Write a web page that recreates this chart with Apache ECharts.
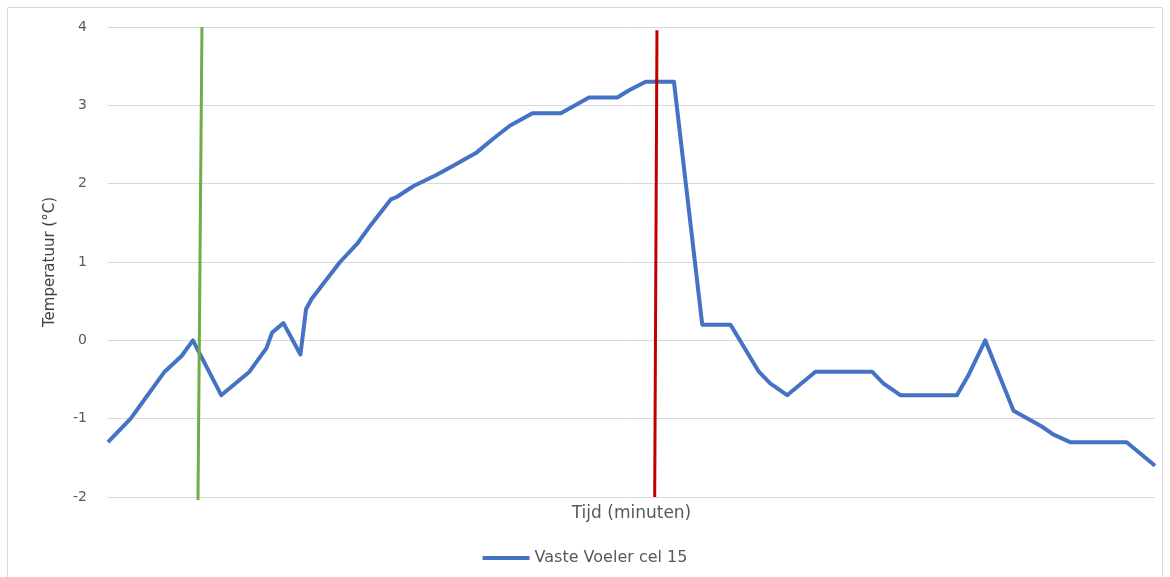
<!DOCTYPE html>
<html>
<head>
<meta charset="utf-8">
<script src="https://cdn.jsdelivr.net/npm/echarts@6/dist/echarts.min.js"></script>
<style>
  html, body { margin: 0; padding: 0; background: #fff; }
  #chart { width: 1170px; height: 577px; }
</style>
</head>
<body>
<div id="chart"></div>
<script>
  // tijd in minuten, temperatuur in graden C
  var tijd = [0, 2, 4, 6, 8, 10, 13, 15, 20, 25, 28, 29, 31, 34, 35, 36, 38, 41, 44, 46, 50, 51, 54, 58, 61, 65, 68, 71, 73, 75, 80, 82, 85, 90, 92, 95, 100, 105, 110, 115, 117, 120, 125, 135, 137, 140, 150, 152, 155, 160, 165, 167, 170, 180, 185];
  var temperatuur = [-1.3, -1.15, -1.0, -0.8, -0.6, -0.4, -0.2, 0, -0.7, -0.4, -0.1, 0.1, 0.22, -0.18, 0.4, 0.53, 0.72, 1.0, 1.23, 1.43, 1.8, 1.83, 1.97, 2.11, 2.23, 2.39, 2.57, 2.74, 2.82, 2.9, 2.9, 2.98, 3.1, 3.1, 3.19, 3.3, 3.3, 0.2, 0.2, -0.4, -0.55, -0.7, -0.4, -0.4, -0.55, -0.7, -0.7, -0.45, 0, -0.9, -1.1, -1.2, -1.3, -1.3, -1.6];

  // markeerlijnen (begin en einde), getekend van boven naar onder
  var groeneLijn = [[16.6, 4], [15.9, -2.04]];
  var rodeLijn = [[97.0, 3.96], [96.6, -2]];

  var yTicks = { min: -2, max: 4, interval: 1 };

  var chart = echarts.init(document.getElementById('chart'));

  chart.setOption({
    animation: false,
    textStyle: { fontFamily: 'DejaVu Sans' },
    graphic: [{
      type: 'rect',
      shape: { x: 7.5, y: 7.5, width: 1155, height: 575 },
      style: { fill: 'none', stroke: '#d9d9d9', lineWidth: 1 },
      silent: true
    }],
    grid: { left: 108, right: 15, top: 27, bottom: 80 },
    legend: {
      data: ['Vaste Voeler cel 15'],
      bottom: 6,
      left: 'center',
      icon: 'rect',
      itemWidth: 47,
      itemHeight: 4,
      textStyle: { color: '#595959', fontSize: 16, fontFamily: 'DejaVu Sans' }
    },
    xAxis: {
      type: 'value',
      min: 0,
      max: 185,
      name: 'Tijd (minuten)',
      nameLocation: 'middle',
      nameGap: 8,
      nameTextStyle: { color: '#595959', fontSize: 17 },
      axisLine: { show: false },
      axisTick: { show: false },
      axisLabel: { show: false },
      splitLine: { show: false }
    },
    yAxis: {
      type: 'value',
      min: yTicks.min,
      max: yTicks.max,
      interval: yTicks.interval,
      name: 'Temperatuur (°C)',
      nameLocation: 'middle',
      nameGap: 50,
      nameTextStyle: { color: '#404040', fontSize: 15 },
      axisLine: { show: false },
      axisTick: { show: false },
      axisLabel: { color: '#595959', fontSize: 14, margin: 21 },
      splitLine: { lineStyle: { color: '#d9d9d9', width: 1 } }
    },
    series: [
      {
        name: 'Vaste Voeler cel 15',
        type: 'line',
        data: tijd.map(function (t, i) { return [t, temperatuur[i]]; }),
        symbol: 'none',
        lineStyle: { color: '#4472c4', width: 4, join: 'round' },
        itemStyle: { color: '#4472c4' },
        z: 3
      },
      {
        name: 'start',
        type: 'line',
        data: groeneLijn,
        symbol: 'none',
        clip: false,
        lineStyle: { color: '#70ad47', width: 3 },
        z: 4
      },
      {
        name: 'einde',
        type: 'line',
        data: rodeLijn,
        symbol: 'none',
        clip: false,
        lineStyle: { color: '#c00000', width: 3 },
        z: 4
      }
    ]
  });
</script>
</body>
</html>
